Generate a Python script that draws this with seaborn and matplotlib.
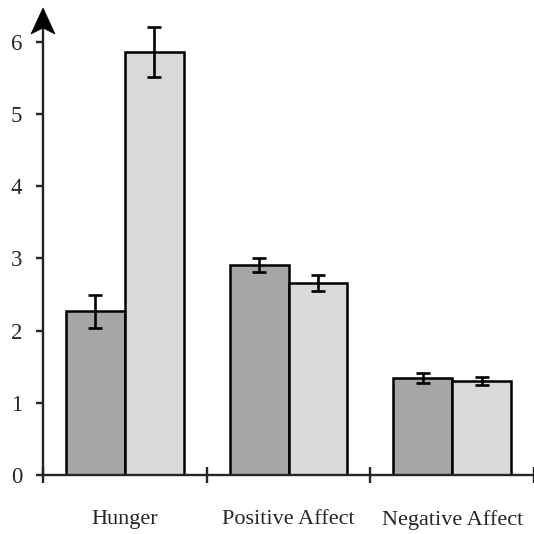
import matplotlib
matplotlib.use("Agg")
import matplotlib.pyplot as plt
import matplotlib.transforms as mtransforms
from matplotlib.patches import Polygon
import seaborn as sns
import pandas as pd

categories = ["Hunger", "Positive Affect", "Negative Affect"]
groups = ["Group A", "Group B"]
values_a = [2.27, 2.91, 1.34]
values_b = [5.86, 2.66, 1.30]
errors_a = [0.23, 0.10, 0.07]
errors_b = [0.34, 0.11, 0.055]
yticks = [0, 1, 2, 3, 4, 5, 6]

df = pd.DataFrame({
    "category": categories * 2,
    "group": [groups[0]] * 3 + [groups[1]] * 3,
    "value": values_a + values_b,
})
errs = errors_a + errors_b

sns.set_style("white")
plt.rcParams["font.family"] = ["Liberation Serif", "DejaVu Serif"]

fig = plt.figure(figsize=(5.34, 5.34), dpi=100)
ax = fig.add_axes([43 / 534, 59 / 534, 1 - 43 / 534, 1 - 8 / 534 - 59 / 534])

sns.barplot(data=df, x="category", y="value", hue="group", order=categories,
            hue_order=groups, palette=["#a6a6a6", "#d9d9d9"], width=0.72,
            gap=0, errorbar=None, edgecolor="black", linewidth=1.8,
            saturation=1, legend=False, ax=ax)

xs, ys = [], []
for p in ax.patches:
    xs.append(p.get_x() + p.get_width() / 2)
    ys.append(p.get_height())
ax.errorbar(xs, ys, yerr=errs, fmt="none", ecolor="black", elinewidth=1.9,
            capsize=5, capthick=1.9, zorder=5)

ax.set_xlim(-0.5, 2.5)
ax.set_ylim(0, 6.47)
ax.set_xlabel("")
ax.set_ylabel("")

for s in ["top", "right"]:
    ax.spines[s].set_visible(False)
ax.spines["left"].set_linewidth(1.7)
ax.spines["bottom"].set_linewidth(1.7)
ax.spines["left"].set_bounds(0, 6.3)

ax.set_yticks(yticks)
ax.set_yticklabels([str(v) for v in yticks])
ax.tick_params(axis="y", direction="out", length=5, width=1.7, pad=10,
               labelsize=16.5, left=True)

ax.set_xticks([0, 1, 2])
ax.set_xticklabels(categories)
ax.tick_params(axis="x", which="major", length=0, pad=25, labelsize=16)
ax.set_xticks([-0.5, 0.5, 1.5, 2.5], minor=True)
ax.tick_params(axis="x", which="minor", direction="inout", length=11,
               width=1.7, bottom=True)

# stealth-style arrowhead at top of y axis
trans = fig.dpi_scale_trans + mtransforms.ScaledTranslation(-0.5, 6.47, ax.transData)
verts = [(0, 0), (-0.12, -0.26), (0, -0.20), (0.12, -0.26)]
head = Polygon(verts, closed=True, facecolor="black", edgecolor="black",
               linewidth=0.5, transform=trans, clip_on=False, zorder=6)
ax.add_patch(head)

fig.savefig("out.png", dpi=100)
